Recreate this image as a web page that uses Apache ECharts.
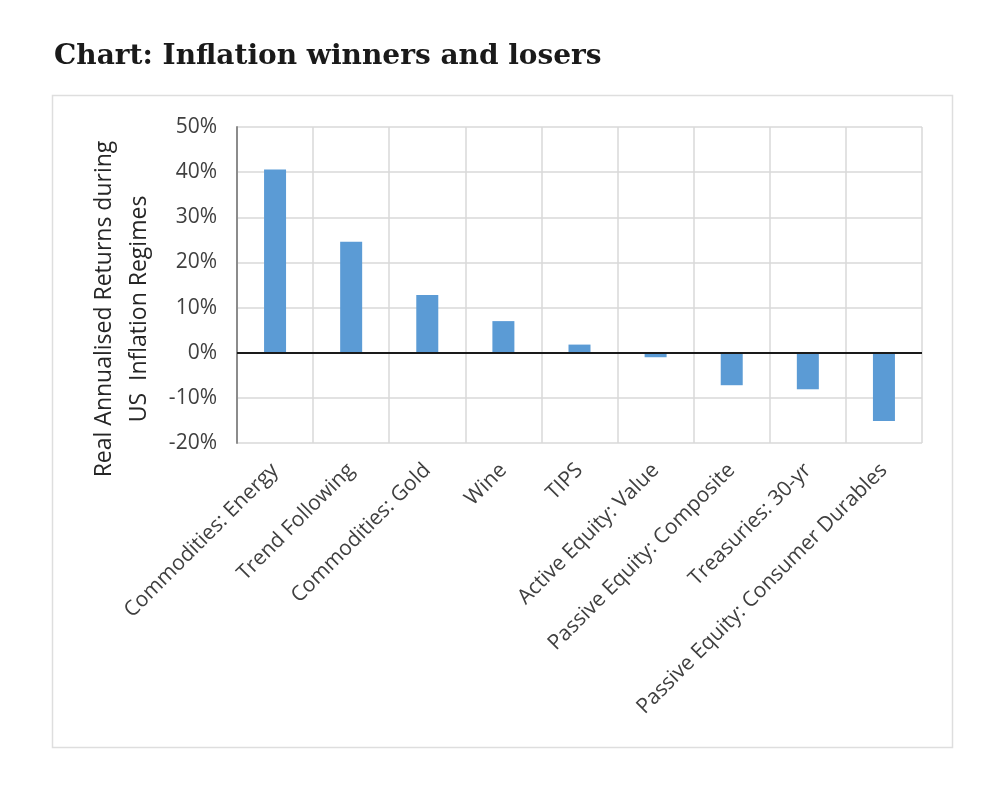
<!DOCTYPE html>
<html>
<head>
<meta charset="utf-8">
<script src="https://cdn.jsdelivr.net/npm/echarts@6/dist/echarts.min.js"></script>
<style>
html,body{margin:0;padding:0;background:#fff;}
#c{width:1004px;height:794px;}
</style>
</head>
<body>
<div id="c"></div>
<script>
const categories = ["Commodities: Energy","Trend Following","Commodities: Gold","Wine","TIPS","Active Equity: Value","Passive Equity: Composite","Treasuries: 30-yr","Passive Equity: Consumer Durables"];
const returnsPct = [40.6, 24.6, 12.8, 7.0, 1.8, -1.0, -7.2, -8.1, -15.1];
const yTicks = [-20, -10, 0, 10, 20, 30, 40, 50];

const chart = echarts.init(document.getElementById('c'), null, {renderer:'canvas'});
const labelFont = '"Open Sans", "Noto Sans", sans-serif';
chart.setOption({
  animation:false,
  backgroundColor:'#fff',
  title:{
    text:'Chart: Inflation winners and losers',
    left:49, top:38,
    textStyle:{fontFamily:'"DejaVu Serif", "Liberation Serif", serif', fontWeight:'bold', fontSize:28, color:'#1a1a1a'}
  },
  graphic:[{
    type:'rect', shape:{x:52.5,y:95.5,width:900,height:652},
    style:{fill:'none', stroke:'#dedede', lineWidth:1.5}, silent:true, z:-1
  }],
  grid:{left:237, right:82, top:127, bottom:351, containLabel:false},
  xAxis:{
    type:'category', data:categories,
    axisLine:{show:false, onZero:false},
    axisTick:{show:false},
    splitLine:{show:true, interval:0, lineStyle:{color:'#d9d9d9', width:1.5}},
    axisLabel:{interval:0, rotate:45, margin:24, fontFamily:labelFont, fontSize:21, color:'#404040'}
  },
  yAxis:{
    type:'value', min:yTicks[0], max:yTicks[yTicks.length-1], interval:10,
    axisLine:{show:true, lineStyle:{color:'#8c8c8c', width:2}},
    axisTick:{show:false},
    splitLine:{show:true, lineStyle:{color:'#d9d9d9', width:1.5}},
    axisLabel:{margin:20, formatter:v=>v+'%', fontFamily:labelFont, fontSize:21, color:'#404040'},
    name:'Real Annualised Returns during\nUS  Inflation Regimes',
    nameLocation:'middle', nameRotate:90, nameGap:80,
    nameTextStyle:{fontFamily:labelFont, fontSize:23, color:'#262626', lineHeight:35, padding:[0,48,0,0]}
  },
  series:[{
    type:'bar', data:returnsPct, barWidth:22,
    itemStyle:{color:'#5B9BD5'},
    markLine:{
      silent:true, symbol:'none', label:{show:false},
      lineStyle:{color:'#1a1a1a', width:2, type:'solid'},
      data:[{yAxis:0}]
    }
  }]
});
</script>
</body>
</html>
